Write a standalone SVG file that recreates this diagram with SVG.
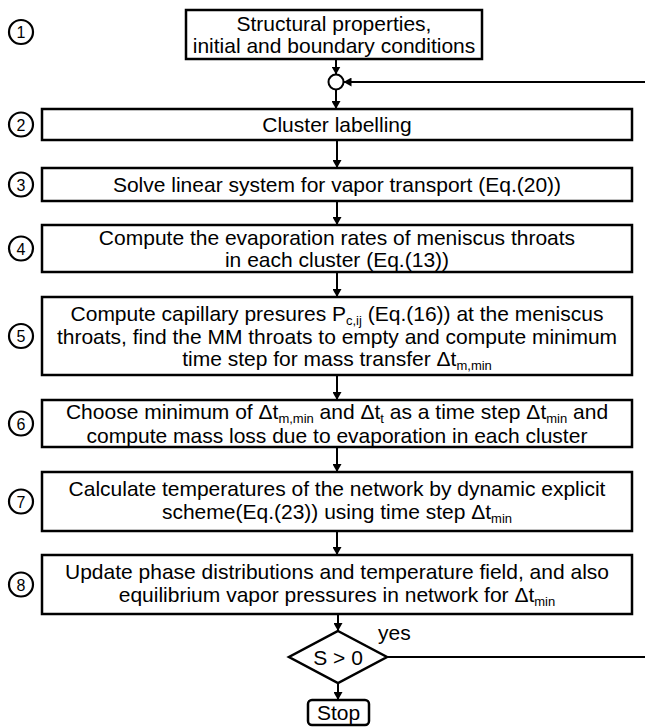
<svg xmlns="http://www.w3.org/2000/svg" width="645" height="727" viewBox="0 0 645 727">
<style>
.box{fill:#fff;stroke:#000;stroke-width:2.5}
.t{font-family:"Liberation Sans",Arial,sans-serif;font-size:21px;fill:#000;text-anchor:middle}
.s{font-size:13px}
.num{fill:#fff;stroke:#000;stroke-width:2.2}
.nt{font-family:"Liberation Sans",Arial,sans-serif;font-size:16px;fill:#000;text-anchor:middle}
.c{fill:none;stroke:#000;stroke-width:2}
</style>
<defs>
<marker id="ah" markerWidth="8" markerHeight="9" refX="8" refY="4.5" orient="auto" markerUnits="userSpaceOnUse">
<path d="M0,0 L8,4.5 L0,9 z" fill="#000"/>
</marker>
</defs>
<g id="num1"><circle class="num" cx="21" cy="32" r="12"/><text class="nt" x="21" y="38">1</text></g>
<g id="num2"><circle class="num" cx="21" cy="124.5" r="12"/><text class="nt" x="21" y="130.5">2</text></g>
<g id="num3"><circle class="num" cx="21" cy="184.5" r="12"/><text class="nt" x="21" y="190.5">3</text></g>
<g id="num4"><circle class="num" cx="21" cy="248.5" r="12"/><text class="nt" x="21" y="254.5">4</text></g>
<g id="num5"><circle class="num" cx="21" cy="336" r="12"/><text class="nt" x="21" y="342">5</text></g>
<g id="num6"><circle class="num" cx="21" cy="423.5" r="12"/><text class="nt" x="21" y="429.5">6</text></g>
<g id="num7"><circle class="num" cx="21" cy="501.5" r="12"/><text class="nt" x="21" y="507.5">7</text></g>
<g id="num8"><circle class="num" cx="21" cy="584.5" r="12"/><text class="nt" x="21" y="590.5">8</text></g>

<g id="box1"><rect class="box" x="186" y="10" width="296" height="49"/>
<text class="t" x="334" y="31">Structural properties,</text>
<text class="t" x="334" y="53">initial and boundary conditions</text></g>
<g id="junction"><circle fill="#fff" stroke="#000" stroke-width="2" cx="336" cy="82" r="7.5"/></g>
<g id="box2"><rect class="box" x="42" y="109" width="590" height="31"/>
<text class="t" x="337" y="132">Cluster labelling</text></g>
<g id="box3"><rect class="box" x="42" y="168" width="590" height="33"/>
<text class="t" x="337" y="192">Solve linear system for vapor transport (Eq.(20))</text></g>
<g id="box4"><rect class="box" x="42" y="225" width="590" height="47"/>
<text class="t" x="337" y="245">Compute the evaporation rates of meniscus throats</text>
<text class="t" x="337" y="267">in each cluster (Eq.(13))</text></g>
<g id="box5"><rect class="box" x="42" y="297" width="590" height="78"/>
<text class="t" x="337" y="320.5">Compute capillary presures P<tspan class="s" dy="4">c,ij</tspan><tspan dy="-4"> (Eq.(16)) at the meniscus</tspan></text>
<text class="t" x="337" y="344">throats,  find the MM throats to empty and compute minimum</text>
<text class="t" x="337" y="366">time step for mass transfer Δt<tspan class="s" dy="4">m,min</tspan></text></g>
<g id="box6"><rect class="box" x="42" y="400" width="590" height="47"/>
<text class="t" x="337" y="419">Choose minimum of Δt<tspan class="s" dy="4">m,min</tspan><tspan dy="-4"> and Δt</tspan><tspan class="s" dy="4">t</tspan><tspan dy="-4"> as a time step Δt</tspan><tspan class="s" dy="4">min</tspan><tspan dy="-4"> and</tspan></text>
<text class="t" x="337" y="443">compute mass loss due to evaporation in each cluster</text></g>
<g id="box7"><rect class="box" x="42" y="472" width="590" height="59"/>
<text class="t" x="337" y="496">Calculate temperatures of the network by dynamic explicit</text>
<text class="t" x="337" y="519">scheme(Eq.(23)) using time step Δt<tspan class="s" dy="4">min</tspan></text></g>
<g id="box8"><rect class="box" x="42" y="555" width="590" height="59"/>
<text class="t" x="337" y="579">Update phase distributions and temperature field, and also</text>
<text class="t" x="337" y="602">equilibrium vapor pressures in network for Δt<tspan class="s" dy="4">min</tspan></text></g>
<g id="decision"><path class="box" d="M338,631 L387,657 L338,683 L289,657 z"/>
<text class="t" x="338" y="664.5">S &gt; 0</text></g>
<g id="stop"><rect class="box" x="308" y="700" width="61" height="25" rx="4"/>
<text class="t" x="338.5" y="720">Stop</text></g>

<g id="connectors">
<line class="c" x1="336" y1="59" x2="336" y2="74.5" marker-end="url(#ah)"/>
<line class="c" x1="336" y1="89.5" x2="336" y2="109" marker-end="url(#ah)"/>
<line class="c" x1="645" y1="82" x2="343.5" y2="82" marker-end="url(#ah)"/>
<line class="c" x1="337" y1="140" x2="337" y2="168" marker-end="url(#ah)"/>
<line class="c" x1="337" y1="201" x2="337" y2="225" marker-end="url(#ah)"/>
<line class="c" x1="337" y1="272" x2="337" y2="297" marker-end="url(#ah)"/>
<line class="c" x1="337" y1="375" x2="337" y2="400" marker-end="url(#ah)"/>
<line class="c" x1="337" y1="447" x2="337" y2="472" marker-end="url(#ah)"/>
<line class="c" x1="337" y1="531" x2="337" y2="555" marker-end="url(#ah)"/>
<line class="c" x1="338" y1="614" x2="338" y2="631" marker-end="url(#ah)"/>
<line class="c" x1="338" y1="683" x2="338" y2="700" marker-end="url(#ah)"/>
<line class="c" x1="387" y1="657" x2="645" y2="657"/>
<text class="t" x="378" y="640" style="text-anchor:start">yes</text>
</g>
</svg>
